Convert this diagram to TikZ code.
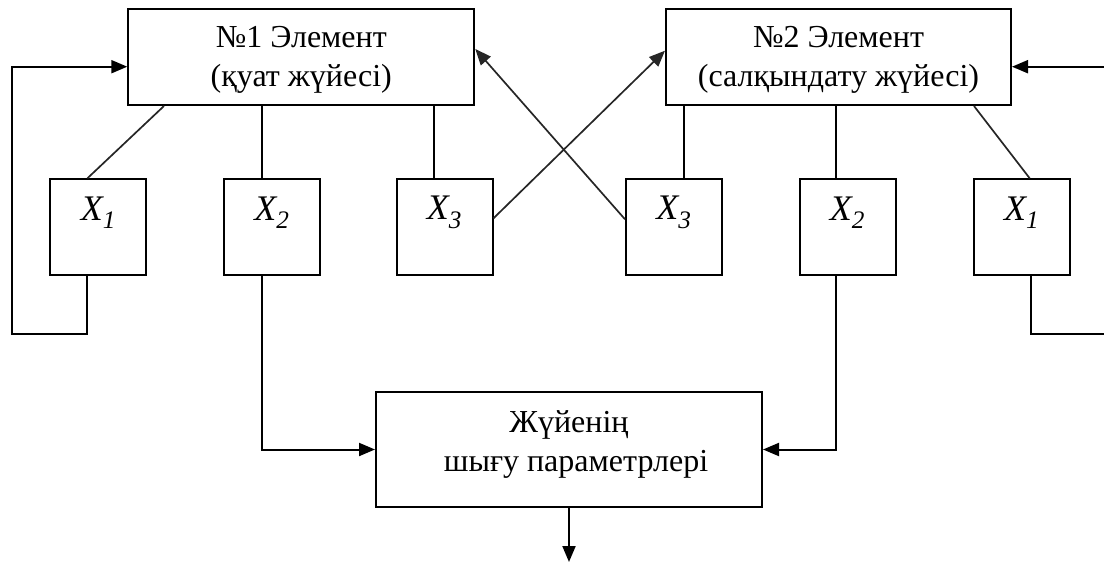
\documentclass[tikz,border=0pt]{standalone}
\usepackage{fontspec}
\setmainfont{Liberation Serif}
\usetikzlibrary{arrows.meta,calc}
\begin{document}
\begin{tikzpicture}[x=1pt,y=-1pt,
  line width=2pt,
  bigbox/.style={draw, rectangle, inner sep=0pt, minimum width=346pt, minimum height=96pt},
  boxtext/.style={align=center, font=\fontsize{32}{39}\selectfont},
  xbox/.style={draw, rectangle, inner sep=0pt, minimum width=96pt, minimum height=96pt},
  conn/.style={line width=2pt},
  diag/.style={line width=1.7pt, black!85},
  arr/.style={-{Triangle[length=16pt,width=13pt]}},
  xlab/.style={font=\fontsize{36}{40}\selectfont\itshape}
]
\useasboundingbox (0,0) rectangle (1104,562);

% main element boxes
\node[bigbox, label={[boxtext, yshift=-3pt]center:№1 Элемент\\(қуат жүйесі)}] (b1) at (301.3,57) {};
\node[bigbox, minimum width=345pt, label={[boxtext, yshift=-3pt]center:№2 Элемент\\(салқындату жүйесі)}] (b2) at (838.5,57) {};

% X boxes
\node[xbox, label={[xlab, yshift=15pt]center:X\textsubscript{1}}] (x1) at (98.4,227.3) {};
\node[xbox, label={[xlab, yshift=15pt]center:X\textsubscript{2}}] (x2) at (272,227.3) {};
\node[xbox, label={[xlab, yshift=15pt]center:X\textsubscript{3}}] (x3) at (444.5,227.3) {};
\node[xbox, label={[xlab, yshift=15pt]center:X\textsubscript{3}}] (y3) at (674,227.3) {};
\node[xbox, label={[xlab, yshift=15pt]center:X\textsubscript{2}}] (y2) at (847.5,227.3) {};
\node[xbox, label={[xlab, yshift=15pt]center:X\textsubscript{1}}] (y1) at (1021.7,227.3) {};

% output box
\node[bigbox, minimum width=386pt, minimum height=115pt,
      label={[boxtext, yshift=5pt]center:Жүйенің\\\hspace*{14pt}шығу параметрлері}] (out) at (569,449.5) {};

% attach coordinates
\coordinate (x1t) at ($(x1.north west)+(38,0)$);
\coordinate (x1b) at ($(x1.south west)+(38,0)$);
\coordinate (x2t) at ($(x2.north west)+(38.5,0)$);
\coordinate (x3t) at ($(x3.north west)+(38.6,0)$);
\coordinate (y3t) at ($(y3.north west)+(58.6,0)$);
\coordinate (y2t) at ($(y2.north west)+(37,0)$);
\coordinate (y1t) at ($(y1.north west)+(57,0)$);
\coordinate (y1b) at ($(y1.south west)+(58.4,0)$);
\coordinate (lb) at (12,334);
\coordinate (rb) at (1104,334);
\coordinate (re) at (1104,66.7);
\coordinate (end) at (569,562);

% element 1 links
\draw[diag] ($(b1.south west)+(36.7,0)$) -- (x1t);
\draw[conn] (x2t |- b1.south) -- (x2t);
\draw[conn] (x3t |- b1.south) -- (x3t);

% element 2 links
\draw[conn] (y3t |- b2.south) -- (y3t);
\draw[conn] (y2t |- b2.south) -- (y2t);
\draw[diag] ($(b2.south west)+(309,0)$) -- (y1t);

% crossing arrows
\draw[diag, arr] ($(x3.north east)+(0,40)$) -- ($(b2.north west)+(0,42.7)$);
\draw[diag, arr] ($(y3.north west)+(0,41)$) -- ($(b1.north east)+(0,41)$);

% feedback loops
\draw[conn, arr] (x1b) |- (lb) |- ([yshift=-9.7pt]b1.west);
\draw[conn] (y1b) |- (rb);
\draw[conn, arr] (re) -- (re -| b2.east);

% to output
\draw[conn, arr] (x2t |- x2.south) |- (out.west);
\draw[conn, arr] (y2t |- y2.south) |- (out.east);
\draw[conn, arr] (out.south) -- (end);
\end{tikzpicture}
\end{document}
